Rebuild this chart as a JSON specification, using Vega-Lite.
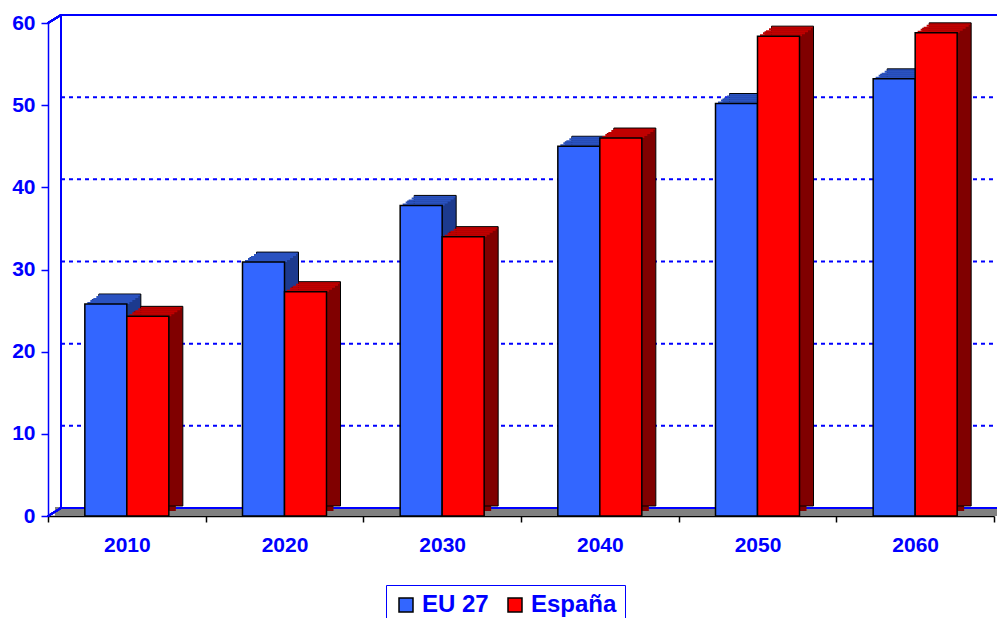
{
  "$schema": "https://vega.github.io/schema/vega-lite/v6.json",
  "width": 946,
  "height": 493,
  "autosize": {"type": "none"},
  "padding": {"left": 48, "top": 23, "right": 3, "bottom": 102},
  "background": "white",
  "datasets": {
    "bars": [
      {"year": "2010", "s": "EU 27", "v": 25.8},
      {"year": "2010", "s": "España", "v": 24.3},
      {"year": "2020", "s": "EU 27", "v": 30.9},
      {"year": "2020", "s": "España", "v": 27.3},
      {"year": "2030", "s": "EU 27", "v": 37.8},
      {"year": "2030", "s": "España", "v": 34.0},
      {"year": "2040", "s": "EU 27", "v": 45.0},
      {"year": "2040", "s": "España", "v": 46.0},
      {"year": "2050", "s": "EU 27", "v": 50.2},
      {"year": "2050", "s": "España", "v": 58.4},
      {"year": "2060", "s": "EU 27", "v": 53.2},
      {"year": "2060", "s": "España", "v": 58.8}
    ],
    "grid": [{"g": 10}, {"g": 20}, {"g": 30}, {"g": 40}, {"g": 50}]
  },
  "data": {"name": "bars"},
  "layer": [
    {
      "mark": {"type": "rule", "color": "#808080", "strokeWidth": 9, "yOffset": -4.5, "xOffset": 7, "x2Offset": 7},
      "encoding": {
        "x": {"datum": "2010", "type": "ordinal", "bandPosition": 0, "scale": {"type": "band", "paddingInner": 0, "paddingOuter": 0}, "title": null},
        "x2": {"datum": "2060", "bandPosition": 1},
        "y": {"datum": 0, "type": "quantitative", "scale": {"domain": [0, 60], "nice": false}, "title": null, "axis": {"values": [0, 10, 20, 30, 40, 50, 60]}}
      }
    },
    {
      "data": {"name": "grid"},
      "mark": {"type": "rule", "color": "#0000ff", "strokeWidth": 2, "strokeDash": [4, 4], "yOffset": -8, "xOffset": 13, "x2Offset": 13},
      "encoding": {
        "x": {"datum": "2010", "type": "ordinal", "bandPosition": 0, "scale": {"type": "band"}, "title": null},
        "x2": {"datum": "2060", "bandPosition": 1},
        "y": {"field": "g", "type": "quantitative", "title": null}
      }
    },
    {
      "mark": {"type": "rule", "color": "#0000ff", "strokeWidth": 1.5, "yOffset": -8, "xOffset": 13, "x2Offset": 13},
      "encoding": {
        "x": {"datum": "2010", "type": "ordinal", "bandPosition": 0, "scale": {"type": "band"}, "title": null},
        "x2": {"datum": "2060", "bandPosition": 1},
        "y": {"datum": 60, "type": "quantitative", "title": null}
      }
    },
    {
      "mark": {"type": "rule", "color": "#0000ff", "strokeWidth": 2, "yOffset": -8, "xOffset": 13, "x2Offset": 13},
      "encoding": {
        "x": {"datum": "2010", "type": "ordinal", "bandPosition": 0, "scale": {"type": "band"}, "title": null},
        "x2": {"datum": "2060", "bandPosition": 1},
        "y": {"datum": 0, "type": "quantitative", "title": null}
      }
    },
    {
      "mark": {"type": "rule", "color": "#0000ff", "strokeWidth": 1.5, "xOffset": 13, "yOffset": -8, "y2Offset": -8},
      "encoding": {
        "x": {"datum": "2010", "type": "ordinal", "bandPosition": 0, "scale": {"type": "band"}, "title": null},
        "y": {"datum": 0, "type": "quantitative", "title": null},
        "y2": {"datum": 60}
      }
    },
    {
      "mark": {"type": "rule", "color": "#0000ff", "strokeWidth": 1.5, "x2Offset": 13, "y2Offset": -8},
      "encoding": {
        "x": {"datum": "2010", "type": "ordinal", "bandPosition": 0, "scale": {"type": "band"}, "title": null},
        "x2": {"datum": "2010", "bandPosition": 0},
        "y": {"datum": 60, "type": "quantitative", "title": null},
        "y2": {"datum": 60}
      }
    },
    {
      "mark": {"type": "rule", "color": "#0000ff", "strokeWidth": 1.5, "x2Offset": 13, "y2Offset": -8},
      "encoding": {
        "x": {"datum": "2010", "type": "ordinal", "bandPosition": 0, "scale": {"type": "band"}, "title": null},
        "x2": {"datum": "2010", "bandPosition": 0},
        "y": {"datum": 0, "type": "quantitative", "title": null},
        "y2": {"datum": 0}
      }
    },
    {
      "transform": [{"filter": "datum.s === 'EU 27'"}],
      "mark": {"type": "bar", "width": 42, "color": "#1c3a8e", "xOffset": -14, "yOffset": -5, "y2Offset": -5},
      "encoding": {
        "x": {"field": "year", "type": "ordinal", "scale": {"type": "band"}, "title": null},
        "y": {"field": "v", "type": "quantitative", "title": null},
        "y2": {"datum": 0}
      }
    },
    {
      "transform": [{"filter": "datum.s === 'EU 27'"}],
      "mark": {"type": "bar", "width": 42, "color": "#1c3a8e", "stroke": "black", "strokeWidth": 1, "xOffset": -7, "yOffset": -10, "y2Offset": -10},
      "encoding": {
        "x": {"field": "year", "type": "ordinal", "scale": {"type": "band"}, "title": null},
        "y": {"field": "v", "type": "quantitative", "title": null},
        "y2": {"datum": 0}
      }
    },
    {
      "transform": [{"filter": "datum.s === 'EU 27'"}],
      "mark": {"type": "bar", "width": 42, "color": "#2a52c0", "xOffset": -18.5, "yOffset": -2, "y2Offset": 0},
      "encoding": {
        "x": {"field": "year", "type": "ordinal", "scale": {"type": "band"}, "title": null},
        "y": {"field": "v", "type": "quantitative", "title": null},
        "y2": {"field": "v"}
      }
    },
    {
      "transform": [{"filter": "datum.s === 'EU 27'"}],
      "mark": {"type": "bar", "width": 42, "color": "#2a52c0", "xOffset": -15.5, "yOffset": -4, "y2Offset": -2},
      "encoding": {
        "x": {"field": "year", "type": "ordinal", "scale": {"type": "band"}, "title": null},
        "y": {"field": "v", "type": "quantitative", "title": null},
        "y2": {"field": "v"}
      }
    },
    {
      "transform": [{"filter": "datum.s === 'EU 27'"}],
      "mark": {"type": "bar", "width": 42, "color": "#2a52c0", "xOffset": -12.5, "yOffset": -6, "y2Offset": -4},
      "encoding": {
        "x": {"field": "year", "type": "ordinal", "scale": {"type": "band"}, "title": null},
        "y": {"field": "v", "type": "quantitative", "title": null},
        "y2": {"field": "v"}
      }
    },
    {
      "transform": [{"filter": "datum.s === 'EU 27'"}],
      "mark": {"type": "bar", "width": 42, "color": "#2a52c0", "xOffset": -9.5, "yOffset": -8, "y2Offset": -6},
      "encoding": {
        "x": {"field": "year", "type": "ordinal", "scale": {"type": "band"}, "title": null},
        "y": {"field": "v", "type": "quantitative", "title": null},
        "y2": {"field": "v"}
      }
    },
    {
      "transform": [{"filter": "datum.s === 'EU 27'"}],
      "mark": {"type": "bar", "width": 41, "color": "#2a52c0", "xOffset": -7.5, "yOffset": -9.4, "y2Offset": -8},
      "encoding": {
        "x": {"field": "year", "type": "ordinal", "scale": {"type": "band"}, "title": null},
        "y": {"field": "v", "type": "quantitative", "title": null},
        "y2": {"field": "v"}
      }
    },
    {
      "transform": [{"filter": "datum.s === 'EU 27'"}],
      "mark": {"type": "bar", "width": 42, "stroke": "black", "strokeWidth": 1.5, "xOffset": -21, "opacity": 1},
      "encoding": {
        "x": {"field": "year", "type": "ordinal", "scale": {"type": "band"}, "title": null},
        "y": {"field": "v", "type": "quantitative", "title": null},
        "y2": {"datum": 0},
        "color": {
          "field": "s",
          "type": "nominal",
          "scale": {"domain": ["EU 27", "España"], "range": ["#3366ff", "#ff0000"]},
          "legend": {
            "orient": "none",
            "legendX": 338,
            "legendY": 562,
            "direction": "horizontal",
            "title": null,
            "labelFont": "Liberation Sans",
            "labelFontSize": 24,
            "labelFontWeight": "bold",
            "labelColor": "#0000ff",
            "symbolType": "square",
            "symbolSize": 196,
            "symbolStrokeColor": "black",
            "symbolStrokeWidth": 1.5,
            "symbolOpacity": 1,
            "strokeColor": "#0000ff",
            "fillColor": "white",
            "padding": 8,
            "columnPadding": 14,
            "labelOffset": 4
          }
        }
      }
    },
    {
      "transform": [{"filter": "datum.s === 'España'"}],
      "mark": {"type": "bar", "width": 42, "color": "#800000", "xOffset": 28, "yOffset": -5, "y2Offset": -5},
      "encoding": {
        "x": {"field": "year", "type": "ordinal", "scale": {"type": "band"}, "title": null},
        "y": {"field": "v", "type": "quantitative", "title": null},
        "y2": {"datum": 0}
      }
    },
    {
      "transform": [{"filter": "datum.s === 'España'"}],
      "mark": {"type": "bar", "width": 42, "color": "#800000", "stroke": "black", "strokeWidth": 1, "xOffset": 35, "yOffset": -10, "y2Offset": -10},
      "encoding": {
        "x": {"field": "year", "type": "ordinal", "scale": {"type": "band"}, "title": null},
        "y": {"field": "v", "type": "quantitative", "title": null},
        "y2": {"datum": 0}
      }
    },
    {
      "transform": [{"filter": "datum.s === 'España'"}],
      "mark": {"type": "bar", "width": 42, "color": "#c00000", "xOffset": 23.5, "yOffset": -2, "y2Offset": 0},
      "encoding": {
        "x": {"field": "year", "type": "ordinal", "scale": {"type": "band"}, "title": null},
        "y": {"field": "v", "type": "quantitative", "title": null},
        "y2": {"field": "v"}
      }
    },
    {
      "transform": [{"filter": "datum.s === 'España'"}],
      "mark": {"type": "bar", "width": 42, "color": "#c00000", "xOffset": 26.5, "yOffset": -4, "y2Offset": -2},
      "encoding": {
        "x": {"field": "year", "type": "ordinal", "scale": {"type": "band"}, "title": null},
        "y": {"field": "v", "type": "quantitative", "title": null},
        "y2": {"field": "v"}
      }
    },
    {
      "transform": [{"filter": "datum.s === 'España'"}],
      "mark": {"type": "bar", "width": 42, "color": "#c00000", "xOffset": 29.5, "yOffset": -6, "y2Offset": -4},
      "encoding": {
        "x": {"field": "year", "type": "ordinal", "scale": {"type": "band"}, "title": null},
        "y": {"field": "v", "type": "quantitative", "title": null},
        "y2": {"field": "v"}
      }
    },
    {
      "transform": [{"filter": "datum.s === 'España'"}],
      "mark": {"type": "bar", "width": 42, "color": "#c00000", "xOffset": 32.5, "yOffset": -8, "y2Offset": -6},
      "encoding": {
        "x": {"field": "year", "type": "ordinal", "scale": {"type": "band"}, "title": null},
        "y": {"field": "v", "type": "quantitative", "title": null},
        "y2": {"field": "v"}
      }
    },
    {
      "transform": [{"filter": "datum.s === 'España'"}],
      "mark": {"type": "bar", "width": 41, "color": "#c00000", "xOffset": 34.5, "yOffset": -9.4, "y2Offset": -8},
      "encoding": {
        "x": {"field": "year", "type": "ordinal", "scale": {"type": "band"}, "title": null},
        "y": {"field": "v", "type": "quantitative", "title": null},
        "y2": {"field": "v"}
      }
    },
    {
      "transform": [{"filter": "datum.s === 'España'"}],
      "mark": {"type": "bar", "width": 42, "stroke": "black", "strokeWidth": 1.5, "xOffset": 21, "opacity": 1},
      "encoding": {
        "x": {"field": "year", "type": "ordinal", "scale": {"type": "band"}, "title": null},
        "y": {"field": "v", "type": "quantitative", "title": null},
        "y2": {"datum": 0},
        "color": {"field": "s", "type": "nominal"}
      }
    }
  ],
  "config": {
    "view": {"stroke": null},
    "font": "Liberation Sans",
    "axisX": {
      "domainColor": "black",
      "domainWidth": 1.5,
      "tickColor": "black",
      "tickSize": 6,
      "tickWidth": 1.5,
      "tickBand": "extent",
      "labelFont": "Liberation Sans",
      "labelFontSize": 21,
      "labelFontWeight": "bold",
      "labelColor": "#0000ff",
      "labelPadding": 12,
      "labelAngle": 0,
      "zindex": 1
    },
    "axisY": {
      "grid": false,
      "domainColor": "#0000ff",
      "domainWidth": 1.5,
      "tickColor": "#0000ff",
      "tickSize": 7,
      "tickWidth": 1.5,
      "labelFont": "Liberation Sans",
      "labelFontSize": 21,
      "labelFontWeight": "bold",
      "labelColor": "#0000ff",
      "labelPadding": 6,
      "zindex": 1
    }
  }
}
